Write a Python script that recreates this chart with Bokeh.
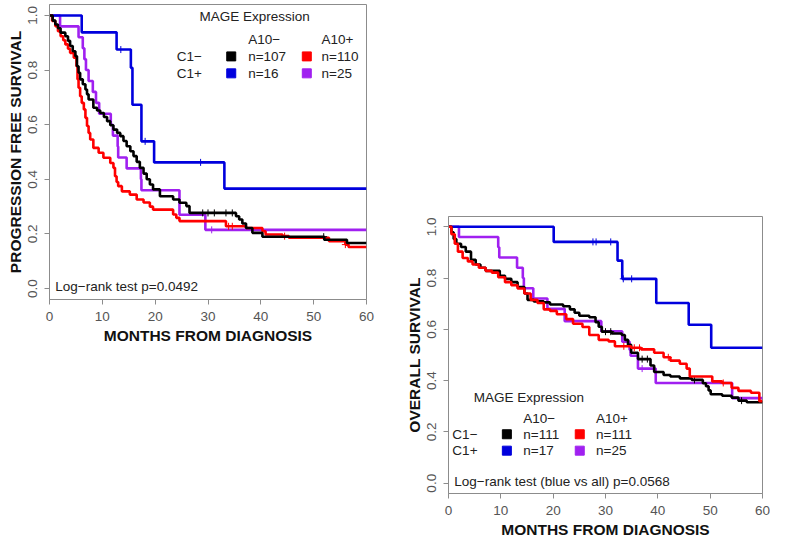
from bokeh.plotting import figure
from bokeh.layouts import row, column
from bokeh.models import Range1d, FixedTicker, PrintfTickFormatter, Spacer
from bokeh.core.properties import value
from bokeh.embed import file_html
from bokeh.resources import INLINE

# ---------------- data ----------------
x_ticks = [0, 10, 20, 30, 40, 50, 60]
y_ticks = [0.0, 0.2, 0.4, 0.6, 0.8, 1.0]
x_end = 60

# Progression free survival (left panel)
pfs_black_t = [0, 0.6, 1.1, 1.6, 2.1, 3.0, 3.5, 3.9, 4.4, 4.9, 5.2, 5.5, 5.8, 6.3, 6.8,
               7.1, 7.4, 8.3, 9.0, 9.6, 10.3, 10.9, 11.5, 12.1, 12.8, 13.4, 14.0, 14.6, 15.3, 15.9,
               16.5, 17.1, 17.8, 18.4, 19.0, 19.6, 20.9, 23.4, 24.6, 25.9, 26.5, 35.3, 35.9, 36.5, 37.2,
               38.4, 40.3, 52.0, 56.3]
pfs_black_s = [1.0, 0.981, 0.967, 0.953, 0.937, 0.924, 0.907, 0.888, 0.869, 0.851, 0.814, 0.790, 0.766, 0.748, 0.729,
               0.711, 0.692, 0.662, 0.652, 0.643, 0.628, 0.613, 0.598, 0.582, 0.570, 0.558, 0.540, 0.521, 0.503, 0.485,
               0.464, 0.442, 0.421, 0.400, 0.381, 0.363, 0.338, 0.326, 0.314, 0.302, 0.277, 0.265, 0.253, 0.238, 0.222,
               0.204, 0.190, 0.179, 0.167]
pfs_red_t = [0, 0.5, 1.1, 1.6, 2.1, 2.6, 3.0, 3.5, 3.9, 4.6, 5.1, 5.3, 5.5, 5.8, 6.1,
             6.5, 6.8, 7.1, 7.4, 7.7, 8.3, 9.3, 10.2, 11.5, 12.1, 12.4, 12.7, 13.0, 13.7, 15.2,
             16.5, 17.8, 19.0, 19.6, 23.4, 24.0, 24.6, 33.4, 37.2, 40.3, 40.9, 44.1, 45.3, 52.9, 56.0,
             56.6]
pfs_red_s = [1.0, 0.980, 0.961, 0.942, 0.924, 0.909, 0.894, 0.878, 0.863, 0.845, 0.814, 0.766, 0.735, 0.704, 0.680,
             0.656, 0.625, 0.595, 0.570, 0.546, 0.515, 0.497, 0.479, 0.460, 0.442, 0.411, 0.390, 0.375, 0.356, 0.344,
             0.326, 0.315, 0.300, 0.289, 0.271, 0.259, 0.247, 0.228, 0.222, 0.210, 0.198, 0.192, 0.186, 0.173, 0.161,
             0.152]
pfs_blue_t = [0, 6.1, 12.7, 15.4, 15.7, 17.4, 19.8, 33.1]
pfs_blue_s = [1.0, 0.938, 0.875, 0.808, 0.673, 0.539, 0.462, 0.366]
pfs_purple_t = [0, 2.0, 5.5, 6.3, 6.6, 6.9, 7.4, 8.2, 8.8, 9.4, 11.6, 12.0, 12.9, 13.0, 14.6, 17.3, 17.4, 24.6, 29.5]
pfs_purple_s = [1.0, 0.96, 0.92, 0.88, 0.84, 0.80, 0.76, 0.72, 0.68, 0.64, 0.60, 0.56, 0.52, 0.48, 0.44, 0.40, 0.36, 0.27, 0.215]

pfs_black_cens_t = [29.0, 30.0, 31.2, 33.4, 34.6, 51.9]
pfs_red_cens_t = [33.9, 34.6, 44.5, 56.0]
pfs_blue_cens_t = [13.5, 18.1, 28.6]
pfs_purple_cens_t = [30.7]

# Overall survival (right panel)
os_black_t = [0, 0.56, 0.99, 1.5, 2.4, 3.3, 4.3, 5.2, 6.1, 7.1, 9.8, 10.8, 12.0, 13.2, 14.5,
              15.1, 16.3, 18.2, 19.4, 21.9, 23.2, 24.1, 25.0, 26.9, 28.1, 28.7, 29.3, 31.2, 33.1, 33.7,
              34.3, 34.9, 36.2, 38.6, 39.3, 41.1, 42.4, 44.2, 46.5, 48.6, 49.2, 49.7, 50.1, 52.3, 54.1,
              55.4, 57.0]
os_black_s = [1.0, 0.978, 0.952, 0.934, 0.921, 0.903, 0.871, 0.853, 0.840, 0.828, 0.809, 0.797, 0.784, 0.765, 0.740,
              0.715, 0.709, 0.705, 0.697, 0.690, 0.678, 0.665, 0.653, 0.647, 0.628, 0.610, 0.591, 0.584, 0.578, 0.559,
              0.540, 0.509, 0.484, 0.459, 0.434, 0.422, 0.416, 0.409, 0.403, 0.390, 0.378, 0.362, 0.347, 0.341, 0.334,
              0.322, 0.316]
os_red_t = [0, 0.56, 1.2, 1.8, 2.7, 3.7, 4.6, 5.8, 7.1, 8.3, 9.5, 10.8, 12.0, 13.2, 14.5,
            15.7, 17.0, 18.2, 19.4, 20.7, 22.5, 23.8, 25.6, 26.9, 28.7, 30.6, 31.8, 34.9, 36.8, 39.3,
            41.1, 42.4, 44.2, 45.5, 46.1, 50.4, 52.3, 54.1, 55.4, 57.8, 59.4]
os_red_s = [1.0, 0.971, 0.934, 0.903, 0.878, 0.865, 0.853, 0.840, 0.828, 0.821, 0.803, 0.784, 0.772, 0.759, 0.740,
            0.715, 0.703, 0.678, 0.672, 0.659, 0.640, 0.622, 0.609, 0.578, 0.559, 0.553, 0.534, 0.528, 0.522, 0.509,
            0.491, 0.478, 0.466, 0.447, 0.416, 0.397, 0.391, 0.372, 0.360, 0.353, 0.320]
os_blue_t = [0, 20.1, 32.3, 33.2, 39.7, 45.9, 50.2]
os_blue_s = [1.0, 0.941, 0.868, 0.797, 0.703, 0.618, 0.528]
os_purple_t = [0, 2.0, 9.5, 9.7, 13.1, 14.2, 14.4, 16.2, 18.9, 22.2, 29.2, 33.2, 34.6, 34.8, 36.2, 39.6, 54.2]
os_purple_s = [1.0, 0.96, 0.92, 0.88, 0.84, 0.80, 0.76, 0.72, 0.68, 0.632, 0.592, 0.552, 0.52, 0.497, 0.447, 0.391, 0.332]

os_black_cens_t = [30.0, 31.0, 37.0, 38.0, 47.0, 56.0]
os_red_cens_t = [33.5, 35.5, 36.5, 42.0, 52.5]
os_blue_cens_t = [27.6, 28.2, 31.0, 33.4, 35.0]
os_purple_cens_t = [37.0]

legend_title = "MAGE Expression"
col_labels = ["A10\u2212", "A10+"]
row_labels = ["C1\u2212", "C1+"]
pfs_n_labels = [["n=107", "n=110"], ["n=16", "n=25"]]
os_n_labels = [["n=111", "n=111"], ["n=17", "n=25"]]
pfs_test = "Log\u2212rank test p=0.0492"
os_test = "Log\u2212rank test (blue vs all) p=0.0568"

COL = {"black": "#000000", "red": "#FF0000", "blue": "#0000DD", "purple": "#A020F0"}
legend_colors = [["black", "red"], ["blue", "purple"]]
FONT = "Liberation Sans"
GRAY = "#8c8c8c"


def surv_at(ts, ss, t):
    v = ss[0]
    for ti, si in zip(ts, ss):
        if ti <= t:
            v = si
    return v


def make_fig(w, h, mbl, mbr, mbt, mbb, xlabel, ylabel):
    p = figure(width=w, height=h, x_range=Range1d(0, 60), y_range=Range1d(-0.04, 1.04),
               output_backend="svg", toolbar_location=None,
               min_border_left=mbl, min_border_right=mbr, min_border_top=mbt, min_border_bottom=mbb)
    p.xgrid.visible = False
    p.ygrid.visible = False
    p.outline_line_color = GRAY
    p.outline_line_width = 1
    p.xaxis.axis_label = xlabel
    p.yaxis.axis_label = ylabel
    p.xaxis.ticker = FixedTicker(ticks=x_ticks)
    p.yaxis.ticker = FixedTicker(ticks=y_ticks)
    p.yaxis.formatter = PrintfTickFormatter(format="%.1f")
    p.yaxis.major_label_orientation = "vertical"
    for ax in (p.xaxis[0], p.yaxis[0]):
        ax.axis_line_color = GRAY
        ax.major_tick_line_color = GRAY
        ax.major_tick_out = 5
        ax.major_tick_in = 0
        ax.minor_tick_line_color = None
        ax.major_label_text_font = FONT
        ax.major_label_text_font_size = "13.5px"
        ax.major_label_text_color = "#555555"
        ax.axis_label_text_font = FONT
        ax.axis_label_text_font_style = "bold"
        ax.axis_label_text_font_size = "15.5px"
        ax.axis_label_text_color = "#111111"
    p.xaxis.major_label_standoff = 7
    p.xaxis.axis_label_standoff = 3
    p.yaxis.major_label_standoff = 7
    p.yaxis.axis_label_standoff = 2
    return p


def draw_curves(p, curves):
    for ts, ss, cname, cens in curves:
        assert len(ts) == len(ss)
        xs = list(ts) + [x_end]
        ys = list(ss) + [ss[-1]]
        p.step(xs, ys, mode="after", line_color=COL[cname], line_width=2.6)
        if cens:
            cy = [surv_at(ts, ss, c) for c in cens]
            p.scatter(cens, cy, marker="cross", size=7, line_color=COL[cname], line_width=1)


def draw_legend(p, title_xy, col_x, col_y, row_x, row_y, sq_x, n_x, n_labels, test_text, test_xy):
    fs = "13.5px"
    p.text([title_xy[0]], [title_xy[1]], text=[legend_title], text_font=value(FONT), text_font_size=fs,
           text_color="#222222", text_baseline="middle", text_align="left")
    p.text(col_x, [col_y, col_y], text=col_labels, text_font=value(FONT), text_font_size=fs,
           text_color="#222222", text_baseline="middle", text_align="left")
    p.text([row_x, row_x], row_y, text=row_labels, text_font=value(FONT), text_font_size=fs,
           text_color="#222222", text_baseline="middle", text_align="left")
    for i in range(2):
        for j in range(2):
            c = COL[legend_colors[i][j]]
            p.scatter([sq_x[j]], [row_y[i]], marker="square", size=9, fill_color=c, line_color=c)
            p.text([n_x[j]], [row_y[i]], text=[n_labels[i][j]], text_font=value(FONT), text_font_size=fs,
                   text_color="#222222", text_baseline="middle", text_align="left")
    p.text([test_xy[0]], [test_xy[1]], text=[test_text], text_font=value(FONT), text_font_size=fs,
           text_color="#222222", text_baseline="middle", text_align="left")


# ---------------- left panel ----------------
p1 = make_fig(378, 346, 49, 12, 4, 46, "MONTHS FROM DIAGNOSIS", "PROGRESSION FREE SURVIVAL")
draw_curves(p1, [
    (pfs_purple_t, pfs_purple_s, "purple", pfs_purple_cens_t),
    (pfs_blue_t, pfs_blue_s, "blue", pfs_blue_cens_t),
    (pfs_red_t, pfs_red_s, "red", pfs_red_cens_t),
    (pfs_black_t, pfs_black_s, "black", pfs_black_cens_t),
])
draw_legend(p1, (28.4, 0.996), [37.6, 51.5], 0.912, 24.1, [0.850, 0.788], [34.4, 48.7], [37.6, 51.5],
            pfs_n_labels, pfs_test, (1.1, 0.006))

# ---------------- right panel ----------------
p2 = make_fig(392, 328, 70, 8, 4, 44, "MONTHS FROM DIAGNOSIS", "OVERALL SURVIVAL")
draw_curves(p2, [
    (os_purple_t, os_purple_s, "purple", os_purple_cens_t),
    (os_blue_t, os_blue_s, "blue", os_blue_cens_t),
    (os_black_t, os_black_s, "black", os_black_cens_t),
    (os_red_t, os_red_s, "red", os_red_cens_t),
])
draw_legend(p2, (4.83, 0.333), [14.3, 28.2], 0.251, 0.74, [0.191, 0.127], [11.15, 25.08], [14.3, 28.2],
            os_n_labels, os_test, (1.11, 0.006))

right_col = column(Spacer(width=392, height=212), p2)
layout = row(p1, right_col)
open("out.html", "w").write(file_html(layout, INLINE))
